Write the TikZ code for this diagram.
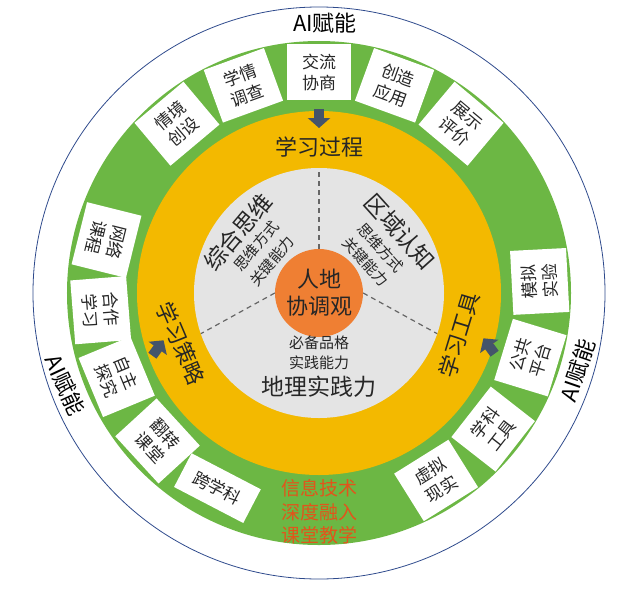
\documentclass[tikz,border=0pt]{standalone}
\usepackage{fontspec}
\setmainfont{Noto Sans CJK SC}
\usepackage{tikz}
\usetikzlibrary{arrows.meta}

\definecolor{ringgreen}{HTML}{6CB744}
\definecolor{ringyellow}{HTML}{F3B900}
\definecolor{coregray}{HTML}{E4E4E4}
\definecolor{coreorange}{HTML}{EF7F33}
\definecolor{rimblue}{HTML}{2E4A8C}
\definecolor{arrowslate}{HTML}{44546A}
\definecolor{boxink}{HTML}{262626}
\definecolor{techred}{HTML}{E2541B}

\tikzset{
  toolbox/.style={fill=white, text=boxink, align=center, inner sep=0pt, minimum width=64pt, minimum height=56pt, font=\fontsize{17}{21}\selectfont},
  ringlabel/.style={text=boxink, font=\fontsize{22}{26}\selectfont},
  biglabel/.style={text=boxink, font=\fontsize{23}{26}\selectfont},
  smalllabel/.style={text=boxink, font=\fontsize{15}{18}\selectfont},
  ailabel/.style={text=black, font=\fontsize{22}{26}\selectfont},
  inward/.style={-{Triangle[width=22pt,length=10pt]}, line width=10pt, arrowslate},
  split/.style={dash pattern=on 5pt off 4pt, line width=1.2pt, black!60},
}

\begin{document}
\begin{tikzpicture}[x=1pt,y=1pt]
\useasboundingbox (-319,-302) rectangle (301,293);
\draw[rimblue, line width=0.8pt] (0,0) circle (286);
\fill[ringgreen] (0,0) circle (252);
\fill[ringyellow] (0,0) circle (182);
\fill[coregray] (0,0) circle (125);

\node[circle, fill=coreorange, minimum size=88pt, inner sep=0pt, align=center, text=boxink, font=\fontsize{22}{27}\selectfont] (core) at (0,0) {人地\\协调观};
\draw[split] (core.north) -- (90:125);
\draw[split] (core.west) -- (199:125);
\draw[split] (core.east) -- (341:125);

\foreach \a/\t [count=\i] in {130/{情境\\创设}, 110/{学情\\调查}, 90/{交流\\协商}, 70/{创造\\应用}, 50/{展示\\评价}}
  \node[toolbox, rotate=\a-90] (proc\i) at (\a:221) {\t};
\foreach \a/\t [count=\i] in {166/{网络\\课程}, 184.5/{合作\\学习}, 202.5/{自主\\探究}, 222.5/{翻转\\课堂}}
  \node[toolbox, rotate=\a+90] (strat\i) at (\a:219) {\t};
\node[toolbox, minimum width=78pt, minimum height=38pt, rotate=332.5] (strat5) at (242.5:220) {跨学科};
\foreach \a/\t [count=\i] in {3/{模拟\\实验}, -17/{公共\\平台}, -38/{学科\\工具}, -58/{虚拟\\现实}}
  \node[toolbox, rotate=\a+90] (tool\i) at (\a:221) {\t};

\node[ringlabel] (procname) at (90:146) {学习过程};
\node[ringlabel, rotate=-67] (stratname) at (200:147) {学习策略};
\node[ringlabel, rotate=73] (toolname) at (-16.7:146) {学习工具};

\coordinate (procfoot) at (90:184);
\coordinate (prochead) at (90:165);
\coordinate (stratfoot) at (-166.6,-62.7);
\coordinate (strathead) at (-155.4,-47.3);
\coordinate (toolfoot) at (175.6,-60.7);
\coordinate (toolhead) at (164.4,-45.3);
\draw[inward] (procfoot) -- (prochead);
\draw[inward] (stratfoot) -- (strathead);
\draw[inward] (toolfoot) -- (toolhead);

\node[biglabel, rotate=50] (synth) at (-81,61) {综合思维};
\node[smalllabel, rotate=50] (synthway) at (-63,47) {思维方式};
\node[smalllabel, rotate=50] (synthkey) at (-47,32) {关键能力};
\node[biglabel, rotate=-48] (region) at (81,61) {区域认知};
\node[smalllabel, rotate=-48] (regionway) at (62,45) {思维方式};
\node[smalllabel, rotate=-48] (regionkey) at (47,31) {关键能力};
\node[smalllabel] (practrait) at (0,-50) {必备品格};
\node[smalllabel] (pracskill) at (0,-70) {实践能力};
\node[biglabel] (practice) at (0,-94) {地理实践力};

\node[ailabel] (aitop) at (6,270) {AI赋能};
\node[ailabel, rotate=-65] (aileft) at (200:270) {AI赋能};
\node[ailabel, rotate=71] (airight) at (-16.6:270) {AI赋能};

\node[text=techred, align=center, font=\fontsize{19}{23.5}\selectfont] (fusion) at (0,-219) {信息技术\\深度融入\\课堂教学};
\end{tikzpicture}
\end{document}
